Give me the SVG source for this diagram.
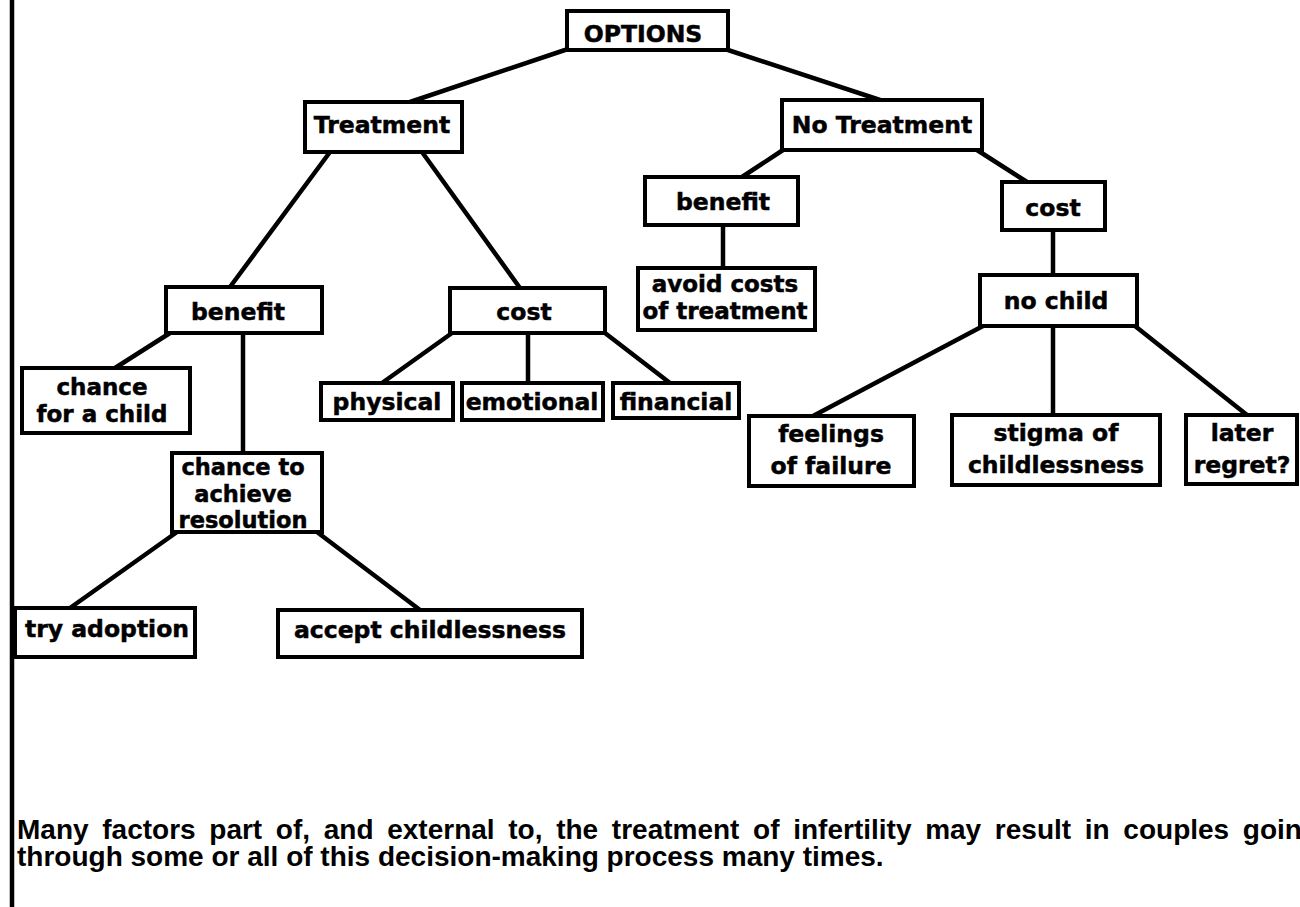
<svg xmlns="http://www.w3.org/2000/svg" width="1300" height="907" viewBox="0 0 1300 907">
<style>
.box{fill:#fff;stroke:#000;stroke-width:4}
.lbl{font-family:"DejaVu Sans","Liberation Sans",sans-serif;font-weight:bold;font-size:23.5px;fill:#000;stroke:#000;stroke-width:0.5;text-anchor:middle}
.ml{font-size:23px}
.ml3{font-size:22.5px}
.para{font-family:"Liberation Sans",Arial,sans-serif;font-weight:bold;font-size:28px;fill:#000}
#connectors line{stroke:#000;stroke-width:4.5;stroke-linecap:round}
</style>
<rect width="1300" height="907" fill="#fff"/>
<line x1="12" y1="0" x2="12" y2="907" stroke="#000" stroke-width="4.5"/>
<g id="connectors">
<line x1="565" y1="50" x2="410" y2="102"/>
<line x1="728" y1="50" x2="880" y2="100"/>
<line x1="330" y1="152" x2="230" y2="287"/>
<line x1="422" y1="152" x2="520" y2="288"/>
<line x1="783" y1="150" x2="742" y2="177"/>
<line x1="977" y1="150" x2="1027" y2="182"/>
<line x1="723" y1="225" x2="723" y2="268"/>
<line x1="1053" y1="230" x2="1053" y2="275"/>
<line x1="983" y1="326" x2="813" y2="416"/>
<line x1="1053" y1="326" x2="1053" y2="415"/>
<line x1="1135" y1="326" x2="1247" y2="415"/>
<line x1="170" y1="333" x2="115" y2="368"/>
<line x1="243" y1="333" x2="243" y2="453"/>
<line x1="452" y1="333" x2="382" y2="383"/>
<line x1="528" y1="333" x2="528" y2="383"/>
<line x1="605" y1="333" x2="670" y2="383"/>
<line x1="177" y1="532" x2="70" y2="608"/>
<line x1="317" y1="532" x2="420" y2="610"/>
</g>
<g id="options"><rect class="box" x="567" y="11" width="161" height="39"/><text class="lbl" x="643" y="42">OPTIONS</text></g>
<g id="treatment"><rect class="box" x="305" y="102" width="157" height="50"/><text class="lbl" x="382" y="133">Treatment</text></g>
<g id="no-treatment"><rect class="box" x="782" y="100" width="200" height="50"/><text class="lbl" x="882" y="133">No Treatment</text></g>
<g id="nt-benefit"><rect class="box" x="645" y="177" width="153" height="48"/><text class="lbl" x="723" y="210">benefit</text></g>
<g id="nt-cost"><rect class="box" x="1002" y="182" width="103" height="48"/><text class="lbl" x="1053" y="216">cost</text></g>
<g id="avoid-costs"><rect class="box" x="638" y="268" width="177" height="62"/><text class="lbl ml" x="725" y="292">avoid costs</text><text class="lbl ml" x="725" y="319">of treatment</text></g>
<g id="no-child"><rect class="box" x="980" y="275" width="157" height="51"/><text class="lbl" x="1056" y="309">no child</text></g>
<g id="feelings"><rect class="box" x="749" y="416" width="165" height="70"/><text class="lbl" x="831" y="442">feelings</text><text class="lbl" x="831" y="474">of failure</text></g>
<g id="stigma"><rect class="box" x="952" y="415" width="208" height="70"/><text class="lbl" x="1056" y="441">stigma of</text><text class="lbl" x="1056" y="473">childlessness</text></g>
<g id="later-regret"><rect class="box" x="1186" y="415" width="111" height="69"/><text class="lbl" x="1242" y="441">later</text><text class="lbl" x="1242" y="473">regret?</text></g>
<g id="t-benefit"><rect class="box" x="166" y="287" width="156" height="46"/><text class="lbl" x="238" y="320">benefit</text></g>
<g id="t-cost"><rect class="box" x="450" y="288" width="155" height="45"/><text class="lbl" x="524" y="320">cost</text></g>
<g id="chance-child"><rect class="box" x="22" y="368" width="168" height="65"/><text class="lbl ml" x="102" y="395">chance</text><text class="lbl ml" x="102" y="422">for a child</text></g>
<g id="chance-resolution"><rect class="box" x="172" y="453" width="150" height="79"/><text class="lbl ml3" x="243" y="475">chance to</text><text class="lbl ml3" x="243" y="501.5">achieve</text><text class="lbl ml3" x="243" y="528">resolution</text></g>
<g id="physical"><rect class="box" x="321" y="383" width="132" height="37"/><text class="lbl" x="387" y="410">physical</text></g>
<g id="emotional"><rect class="box" x="462" y="383" width="141" height="37"/><text class="lbl" x="532" y="410">emotional</text></g>
<g id="financial"><rect class="box" x="613" y="383" width="126" height="35"/><text class="lbl" x="676" y="410">financial</text></g>
<g id="try-adoption"><rect class="box" x="15" y="608" width="180" height="49"/><text class="lbl" x="107" y="637">try adoption</text></g>
<g id="accept"><rect class="box" x="278" y="610" width="304" height="47"/><text class="lbl" x="430" y="638">accept childlessness</text></g>
<g id="caption">
<text class="para" x="17" y="839" word-spacing="5.9">Many factors part of, and external to, the treatment of infertility may result in couples going</text>
<text class="para" x="17" y="866">through some or all of this decision-making process many times.</text>
</g>
</svg>
